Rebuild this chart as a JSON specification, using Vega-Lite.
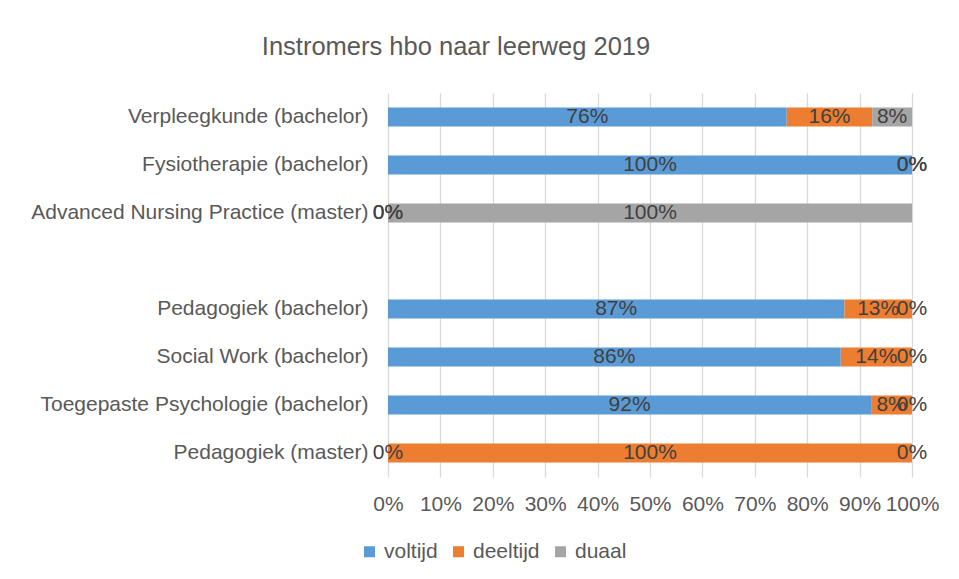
{
  "$schema": "https://vega.github.io/schema/vega-lite/v6.json",
  "autosize": "none",
  "width": 524,
  "height": 384,
  "padding": {"left": 388, "top": 93, "right": 47, "bottom": 102},
  "background": "white",
  "title": {
    "text": "Instromers hbo naar leerweg 2019",
    "font": "Liberation Sans",
    "fontSize": 25.5,
    "fontWeight": "normal",
    "color": "#595959",
    "anchor": "middle",
    "frame": "group",
    "dx": -194,
    "offset": 33
  },
  "data": {
    "values": [
      {"opleiding": "Verpleegkunde (bachelor)", "leerweg": "voltijd", "o": 1, "aandeel": 0.761},
      {"opleiding": "Verpleegkunde (bachelor)", "leerweg": "deeltijd", "o": 2, "aandeel": 0.163},
      {"opleiding": "Verpleegkunde (bachelor)", "leerweg": "duaal", "o": 3, "aandeel": 0.076},
      {"opleiding": "Fysiotherapie (bachelor)", "leerweg": "voltijd", "o": 1, "aandeel": 1.0},
      {"opleiding": "Fysiotherapie (bachelor)", "leerweg": "deeltijd", "o": 2, "aandeel": 0.0},
      {"opleiding": "Fysiotherapie (bachelor)", "leerweg": "duaal", "o": 3, "aandeel": 0.0},
      {"opleiding": "Advanced Nursing Practice (master)", "leerweg": "voltijd", "o": 1, "aandeel": 0.0},
      {"opleiding": "Advanced Nursing Practice (master)", "leerweg": "deeltijd", "o": 2, "aandeel": 0.0},
      {"opleiding": "Advanced Nursing Practice (master)", "leerweg": "duaal", "o": 3, "aandeel": 1.0},
      {"opleiding": "Pedagogiek (bachelor)", "leerweg": "voltijd", "o": 1, "aandeel": 0.871},
      {"opleiding": "Pedagogiek (bachelor)", "leerweg": "deeltijd", "o": 2, "aandeel": 0.129},
      {"opleiding": "Pedagogiek (bachelor)", "leerweg": "duaal", "o": 3, "aandeel": 0.0},
      {"opleiding": "Social Work (bachelor)", "leerweg": "voltijd", "o": 1, "aandeel": 0.864},
      {"opleiding": "Social Work (bachelor)", "leerweg": "deeltijd", "o": 2, "aandeel": 0.136},
      {"opleiding": "Social Work (bachelor)", "leerweg": "duaal", "o": 3, "aandeel": 0.0},
      {"opleiding": "Toegepaste Psychologie (bachelor)", "leerweg": "voltijd", "o": 1, "aandeel": 0.922},
      {"opleiding": "Toegepaste Psychologie (bachelor)", "leerweg": "deeltijd", "o": 2, "aandeel": 0.078},
      {"opleiding": "Toegepaste Psychologie (bachelor)", "leerweg": "duaal", "o": 3, "aandeel": 0.0},
      {"opleiding": "Pedagogiek (master)", "leerweg": "voltijd", "o": 1, "aandeel": 0.0},
      {"opleiding": "Pedagogiek (master)", "leerweg": "deeltijd", "o": 2, "aandeel": 1.0},
      {"opleiding": "Pedagogiek (master)", "leerweg": "duaal", "o": 3, "aandeel": 0.0}
    ]
  },
  "transform": [
    {"stack": "aandeel", "groupby": ["opleiding"], "sort": [{"field": "o", "order": "ascending"}], "as": ["x0", "x1"]},
    {"calculate": "(datum.x0 + datum.x1) / 2", "as": "mid"}
  ],
  "encoding": {
    "y": {
      "field": "opleiding",
      "type": "nominal",
      "title": null,
      "scale": {
        "domain": ["Verpleegkunde (bachelor)", "Fysiotherapie (bachelor)", "Advanced Nursing Practice (master)", " ", "Pedagogiek (bachelor)", "Social Work (bachelor)", "Toegepaste Psychologie (bachelor)", "Pedagogiek (master)"],
        "paddingInner": 0.6,
        "paddingOuter": 0.3
      },
      "axis": {
        "domain": false,
        "ticks": false,
        "grid": false,
        "labelPadding": 20,
        "labelFont": "Liberation Sans",
        "labelFontSize": 21,
        "labelColor": "#595959",
        "labelLimit": 400
      }
    }
  },
  "layer": [
    {
      "mark": {"type": "bar"},
      "encoding": {
        "x": {
          "field": "x0",
          "type": "quantitative",
          "scale": {"domain": [0, 1], "nice": false},
          "title": null,
          "axis": {
            "format": ".0%",
            "values": [0, 0.1, 0.2, 0.3, 0.4, 0.5, 0.6, 0.7, 0.8, 0.9, 1.0],
            "domain": false,
            "ticks": false,
            "grid": true,
            "gridColor": "#D9D9D9",
            "gridWidth": 1.3,
            "labelPadding": 16,
            "labelFont": "Liberation Sans",
            "labelFontSize": 21,
            "labelColor": "#595959",
            "labelFlush": false
          }
        },
        "x2": {"field": "x1"},
        "color": {
          "field": "leerweg",
          "type": "nominal",
          "scale": {"domain": ["voltijd", "deeltijd", "duaal"], "range": ["#5B9BD5", "#ED7D31", "#A5A5A5"]},
          "legend": {
            "title": null,
            "orient": "none",
            "direction": "horizontal",
            "legendX": -29,
            "legendY": 448,
            "symbolType": "square",
            "symbolSize": 121,
            "symbolStrokeWidth": 0,
            "labelFont": "Liberation Sans",
            "labelFontSize": 21,
            "labelColor": "#595959",
            "labelOffset": 4,
            "columnPadding": 10
          }
        }
      }
    },
    {
      "mark": {"type": "text", "font": "Liberation Sans", "fontSize": 21, "color": "#404040", "align": "center", "baseline": "middle"},
      "encoding": {
        "x": {"field": "mid", "type": "quantitative"},
        "text": {"field": "aandeel", "type": "quantitative", "format": ".0%"}
      }
    }
  ],
  "config": {
    "view": {"stroke": null}
  }
}
